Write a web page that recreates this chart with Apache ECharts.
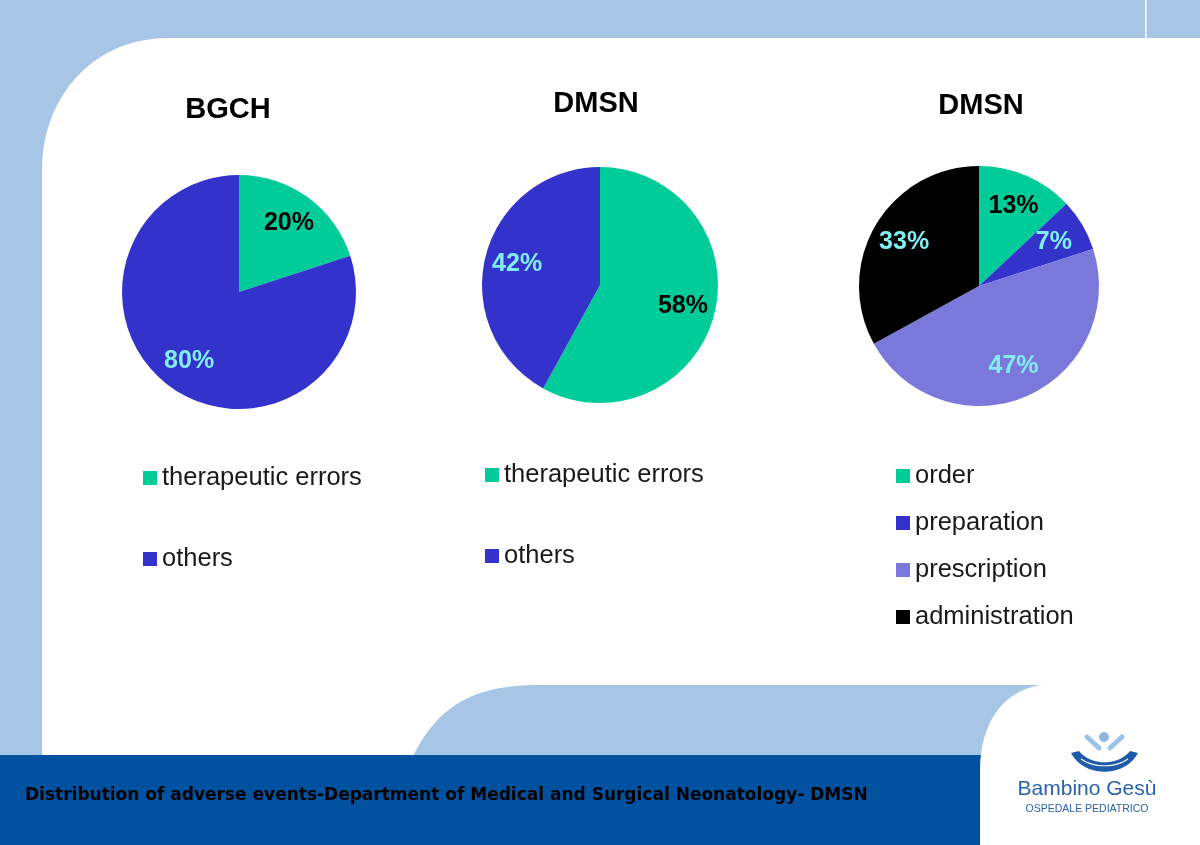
<!DOCTYPE html>
<html>
<head>
<meta charset="utf-8">
<script src="https://cdn.jsdelivr.net/npm/echarts@6/dist/echarts.min.js"></script>
<style>
  html, body { margin: 0; padding: 0; background: #fff; }
  #chart { width: 1200px; height: 845px; }
</style>
</head>
<body>
<div id="chart"></div>
<script>
// pie 1 / pie 2: therapeutic errors vs others
var names12 = ['therapeutic errors', 'others']
var bgchValues = [20, 80]
var dmsnValues = [58, 42]
// pie 3: phase of the therapeutic error
var phaseNames = ['order', 'preparation', 'prescription', 'administration']
var phaseValues = [13, 7, 47, 33]
var titles = ['BGCH', 'DMSN', 'DMSN']
var footerText = 'Distribution of adverse events-Department of Medical and Surgical Neonatology- DMSN'

var GREEN = '#00cc99'
var BLUE = '#3333cc'
var LAVENDER = '#7b78dc'
var BLACK = '#000000'
var CYAN = '#80eef2'
var LIGHT = '#a7c6e6'
var DARK = '#0052a0'

var pies = [
  { names: names12, values: bgchValues, colors: [GREEN, BLUE], labelColors: [BLACK, CYAN], center: [239, 292], r: 117 },
  { names: names12, values: dmsnValues, colors: [GREEN, BLUE], labelColors: [BLACK, CYAN], center: [600, 285], r: 118 },
  { names: phaseNames, values: phaseValues, colors: [GREEN, BLUE, LAVENDER, BLACK], labelColors: [BLACK, CYAN, CYAN, CYAN], center: [979, 286], r: 120 }
]

// cubic bezier -> list of points (for the slide decoration shapes)
function bez(p0, p1, p2, p3, n) {
  var pts = []
  for (var i = 0; i <= n; i++) {
    var t = i / n, u = 1 - t
    pts.push([
      u * u * u * p0[0] + 3 * u * u * t * p1[0] + 3 * u * t * t * p2[0] + t * t * t * p3[0],
      u * u * u * p0[1] + 3 * u * u * t * p1[1] + 3 * u * t * t * p2[1] + t * t * t * p3[1]
    ])
  }
  return pts
}

var chart = echarts.init(document.getElementById('chart'))

var series = []
// visible slices
pies.forEach(function (p) {
  series.push({
    type: 'pie',
    center: p.center,
    radius: [0, p.r],
    startAngle: 90,
    clockwise: true,
    label: { show: false },
    labelLine: { show: false },
    itemStyle: { borderWidth: 0 },
    emphasis: { disabled: true },
    data: p.values.map(function (v, i) {
      return { name: p.names[i], value: v, itemStyle: { color: p.colors[i] } }
    })
  })
})
// transparent ring only used to put the labels at ~70% of the radius
pies.forEach(function (p) {
  series.push({
    type: 'pie',
    silent: true,
    center: p.center,
    radius: [p.r * 0.4, p.r],
    startAngle: 90,
    clockwise: true,
    labelLine: { show: false },
    itemStyle: { color: 'rgba(0,0,0,0)', borderWidth: 0 },
    emphasis: { disabled: true },
    label: {
      show: true,
      position: 'inside',
      formatter: '{c}%',
      fontFamily: 'Liberation Sans, Arial, sans-serif',
      fontWeight: 'bold',
      fontSize: 25
    },
    data: p.values.map(function (v, i) {
      return { name: p.names[i], value: v, label: { color: p.labelColors[i] } }
    })
  })
})

var legendText = { fontFamily: 'Liberation Sans, Arial, sans-serif', fontSize: 25.5, color: '#1a1a1a' }
var titleFont = 'bold 29px "Liberation Sans", Arial, sans-serif'

// decoration outlines
var whiteArea = [[42, 845]].concat(bez([42, 170], [42, 95], [95, 38], [168, 38], 30), [[1200, 38], [1200, 845]])
var bump = bez([413, 756], [440, 702], [478, 685], [540, 685], 30).concat([[1042, 685], [1042, 756]])
var logoBox = [[1200, 685]].concat(bez([1042, 685], [1002, 690], [980, 725], [980, 770], 30), [[980, 845], [1200, 845]])
var hand = bez([1071, 753], [1084, 778], [1125, 778], [1138, 753], 20).concat(bez([1130, 751], [1118, 766], [1091, 766], [1079, 751], 20))
var handLine = bez([1081, 759], [1094, 768], [1115, 768], [1128, 759], 16)

chart.setOption({
  animation: false,
  backgroundColor: '#ffffff',
  legend: [
    { data: names12, left: 143, top: 465, orient: 'vertical', itemGap: 55, icon: 'rect', itemWidth: 14, itemHeight: 14, padding: 0, textStyle: legendText, selectedMode: false },
    { data: names12, left: 485, top: 462, orient: 'vertical', itemGap: 55, icon: 'rect', itemWidth: 14, itemHeight: 14, padding: 0, textStyle: legendText, selectedMode: false },
    { data: phaseNames, left: 896, top: 463, orient: 'vertical', itemGap: 21, icon: 'rect', itemWidth: 14, itemHeight: 14, padding: 0, textStyle: legendText, selectedMode: false }
  ],
  graphic: [
    // slide background
    { type: 'rect', z: -10, silent: true, shape: { x: 0, y: 0, width: 1200, height: 845 }, style: { fill: LIGHT } },
    { type: 'polygon', z: -9, silent: true, shape: { points: whiteArea }, style: { fill: '#ffffff' } },
    { type: 'rect', z: -8, silent: true, shape: { x: 1145, y: 0, width: 1.5, height: 39 }, style: { fill: '#ffffff' } },
    { type: 'polygon', z: -8, silent: true, shape: { points: bump }, style: { fill: LIGHT } },
    { type: 'rect', z: -7, silent: true, shape: { x: 0, y: 755, width: 1000, height: 90 }, style: { fill: DARK } },
    { type: 'polygon', z: -6, silent: true, shape: { points: logoBox }, style: { fill: '#ffffff' } },
    // pie titles
    { type: 'text', x: 228, y: 110, style: { text: titles[0], textAlign: 'center', textVerticalAlign: 'middle', font: titleFont, fill: '#000' } },
    { type: 'text', x: 596, y: 104, style: { text: titles[1], textAlign: 'center', textVerticalAlign: 'middle', font: titleFont, fill: '#000' } },
    { type: 'text', x: 981, y: 106, style: { text: titles[2], textAlign: 'center', textVerticalAlign: 'middle', font: titleFont, fill: '#000' } },
    // footer caption
    { type: 'text', x: 25, y: 796, style: { text: footerText, textAlign: 'left', textVerticalAlign: 'middle', font: 'bold 17px "DejaVu Sans", sans-serif', fill: '#000' } },
    // hospital logo
    { type: 'circle', shape: { cx: 1104, cy: 737, r: 5 }, style: { fill: '#8db8e4' } },
    { type: 'line', shape: { x1: 1087, y1: 737, x2: 1099, y2: 748 }, style: { stroke: '#9cc2e8', lineWidth: 5, lineCap: 'round' } },
    { type: 'line', shape: { x1: 1122, y1: 737, x2: 1110, y2: 748 }, style: { stroke: '#9cc2e8', lineWidth: 5, lineCap: 'round' } },
    { type: 'polygon', shape: { points: hand }, style: { fill: '#1f5ba8' } },
    { type: 'polyline', shape: { points: handLine }, style: { stroke: '#ffffff', lineWidth: 1.2, fill: null } },
    { type: 'text', x: 1087, y: 789, style: { text: 'Bambino Gesù', textAlign: 'center', textVerticalAlign: 'middle', font: '21px "Liberation Sans Narrow", "Liberation Sans", sans-serif', fill: '#2a63ad' } },
    { type: 'text', x: 1087, y: 809, style: { text: 'OSPEDALE PEDIATRICO', textAlign: 'center', textVerticalAlign: 'middle', font: '10.5px "Liberation Sans", sans-serif', fill: '#2a63ad' } }
  ],
  series: series
})
</script>
</body>
</html>
